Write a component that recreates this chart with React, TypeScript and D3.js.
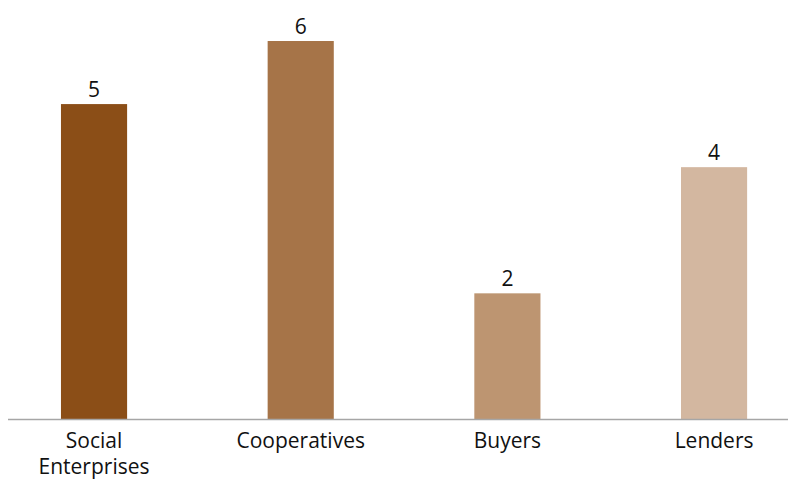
import React from "react";
import * as d3 from "d3";

const categories = ["Social Enterprises", "Cooperatives", "Buyers", "Lenders"];
const labelLines = [["Social", "Enterprises"], ["Cooperatives"], ["Buyers"], ["Lenders"]];
const values = [5, 6, 2, 4];
const colors = ["#8B4E17", "#A67448", "#BD9571", "#D3B7A0"];

export default function App() {
  const W = 788, H = 479;
  const baseline = 419.5;
  const x = d3.scaleBand<string>().domain(categories).range([-9.3, 817.4]).paddingInner(0.68).paddingOuter(0.34);
  const y = d3.scaleLinear().domain([0, 6]).range([baseline, 41]);
  const font = "'Open Sans', 'Noto Sans', sans-serif";
  return (
    <svg width={W} height={H} style={{ position: "absolute", left: 0, top: 0 }} fontFamily={font}>
      {categories.map((c, i) => (
        <g key={c}>
          <rect x={x(c)} y={y(values[i])} width={x.bandwidth()} height={baseline - y(values[i])} fill={colors[i]} />
          <text x={x(c)! + x.bandwidth() / 2} y={y(values[i]) - 7} textAnchor="middle" fontSize={21} fill="#111">{values[i]}</text>
          {labelLines[i].map((l, j) => (
            <text key={j} x={x(c)! + x.bandwidth() / 2} y={448 + j * 26} textAnchor="middle" fontSize={21} fill="#111">{l}</text>
          ))}
        </g>
      ))}
      <line x1={8} x2={788} y1={baseline} y2={baseline} stroke="#A6A6A6" strokeWidth={1.5} />
    </svg>
  );
}
